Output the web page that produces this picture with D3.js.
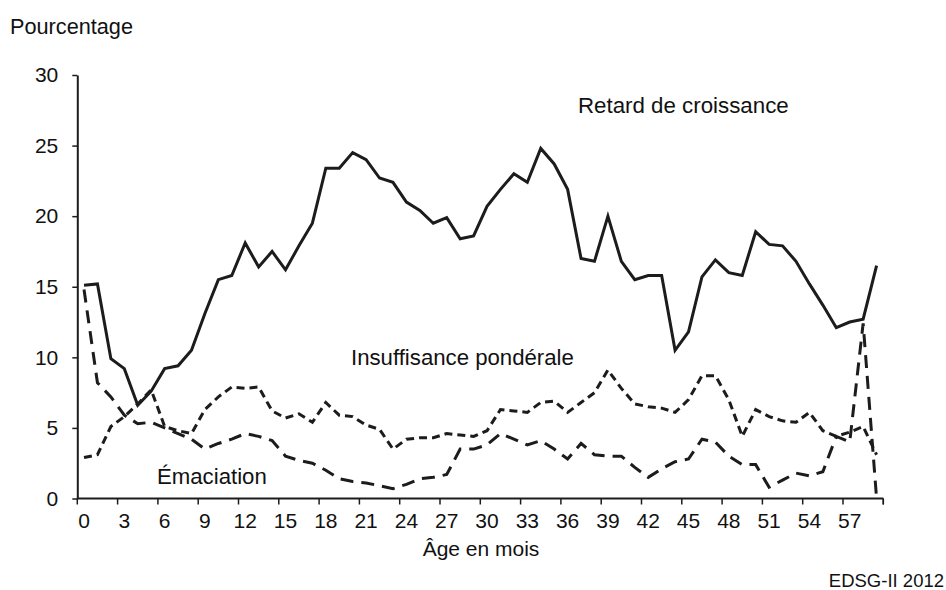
<!DOCTYPE html>
<html><head><meta charset="utf-8">
<script src="https://cdn.jsdelivr.net/npm/d3@7"></script>
<style>
html,body{margin:0;padding:0;background:#fff;}
svg text{font-family:"Liberation Sans",Arial,sans-serif;fill:#111;}
</style></head>
<body>
<svg id="c" width="946" height="590"></svg>
<script>
const months = d3.range(0, 60);
const xTickLabels = d3.range(0, 60, 3);
const yTicks = [0, 5, 10, 15, 20, 25, 30];

const retard = [15.1,15.2,9.9,9.2,6.6,7.6,9.2,9.4,10.5,13.1,
  15.5,15.8,18.1,16.4,17.5,16.2,17.9,19.5,23.4,23.4,
  24.5,24.0,22.7,22.4,21.0,20.4,19.5,19.9,18.4,18.6,
  20.7,21.9,23.0,22.4,24.8,23.7,21.9,17.0,16.8,20.0,
  16.8,15.5,15.8,15.8,10.5,11.8,15.7,16.9,16.0,15.8,
  18.9,18.0,17.9,16.8,15.2,13.7,12.1,12.5,12.7,16.5];
const insuffisance = [2.9,3.1,5.1,5.8,6.7,7.7,5.1,4.8,4.6,6.3,
  7.2,7.9,7.8,7.9,6.2,5.7,6.0,5.4,6.8,5.9,
  5.8,5.2,4.9,3.5,4.2,4.3,4.3,4.6,4.5,4.4,
  4.8,6.3,6.2,6.1,6.8,6.9,6.1,6.8,7.5,9.1,
  7.8,6.7,6.5,6.4,6.1,7.0,8.7,8.7,7.0,4.4,
  6.3,5.8,5.5,5.4,6.1,4.8,4.4,4.7,5.1,3.1];
const emaciation = [14.8,8.2,7.2,5.9,5.3,5.4,5.0,4.6,4.2,3.5,
  3.9,4.2,4.6,4.4,4.1,3.0,2.7,2.5,2.0,1.4,
  1.2,1.1,0.9,0.7,1.0,1.4,1.5,1.7,3.5,3.5,
  3.8,4.6,4.2,3.8,4.1,3.5,2.8,3.9,3.1,3.0,
  3.0,2.2,1.5,2.1,2.6,2.8,4.2,4.0,3.0,2.4,
  2.4,0.8,1.3,1.8,1.6,1.9,4.4,4.0,12.4,0];

const seriesNames = ["Retard de croissance", "Insuffisance pondérale", "Émaciation"];

const svg = d3.select("#c");
const x = d3.scaleLinear().domain([-0.5, 59.5]).range([77.3, 883.3]);
const y = d3.scaleLinear().domain([0, 30]).range([498.5, 75]);
const ink = "#1c1c1c";

// y axis
const yAxis = svg.append("g").attr("transform", `translate(${x(-0.5)},0)`)
  .call(d3.axisLeft(y).tickValues(yTicks).tickSize(5).tickPadding(14).tickSizeOuter(0));
yAxis.select(".domain").attr("stroke", ink).attr("stroke-width", 2);
yAxis.selectAll(".tick line").attr("stroke", ink).attr("stroke-width", 1.5);
yAxis.selectAll(".tick text").style("font-size", "21px").attr("fill", "#111")
  .style("font-family", '"Liberation Sans",Arial,sans-serif');

// x axis: ticks at category boundaries every 3
const xAxisG = svg.append("g").attr("transform", `translate(0,${y(0)})`);
const boundaries = d3.range(-0.5, 60, 3).concat([59.5]);
xAxisG.append("line").attr("x1", x(-0.5)).attr("x2", x(59.5)).attr("y1", 0).attr("y2", 0)
  .attr("stroke", ink).attr("stroke-width", 2);
xAxisG.selectAll("line.tk").data(boundaries).join("line").attr("class", "tk")
  .attr("x1", d => x(d)).attr("x2", d => x(d)).attr("y1", 0).attr("y2", 6)
  .attr("stroke", ink).attr("stroke-width", 1.5);
xAxisG.selectAll("text").data(xTickLabels).join("text")
  .attr("x", d => x(d)).attr("y", 29).attr("text-anchor", "middle")
  .style("font-size", "21px").text(d => d);

// lines
const line = d3.line().x((d, i) => x(months[i])).y(d => y(d));
const styles = [
  {data: retard, dash: null},
  {data: insuffisance, dash: "8,5"},
  {data: emaciation, dash: "13,8"}
];
styles.forEach(s => {
  svg.append("path").datum(s.data).attr("d", line)
    .attr("fill", "none").attr("stroke", ink).attr("stroke-width", 3)
    .attr("stroke-linejoin", "miter")
    .attr("stroke-dasharray", s.dash);
});

// labels
function label(txt, xx, yy, size, anchor) {
  svg.append("text").attr("x", xx).attr("y", yy).attr("text-anchor", anchor || "start")
    .style("font-size", size + "px").text(txt);
}
label("Pourcentage", 10, 34, 21.7);
label(seriesNames[0], 578, 113, 22.3);
label(seriesNames[1], 351, 365, 22.2);
label(seriesNames[2], 157, 484, 22.2);
label("Âge en mois", 481, 556, 21, "middle");
label("EDSG-II 2012", 944, 587, 18.5, "end");
</script>
</body></html>
